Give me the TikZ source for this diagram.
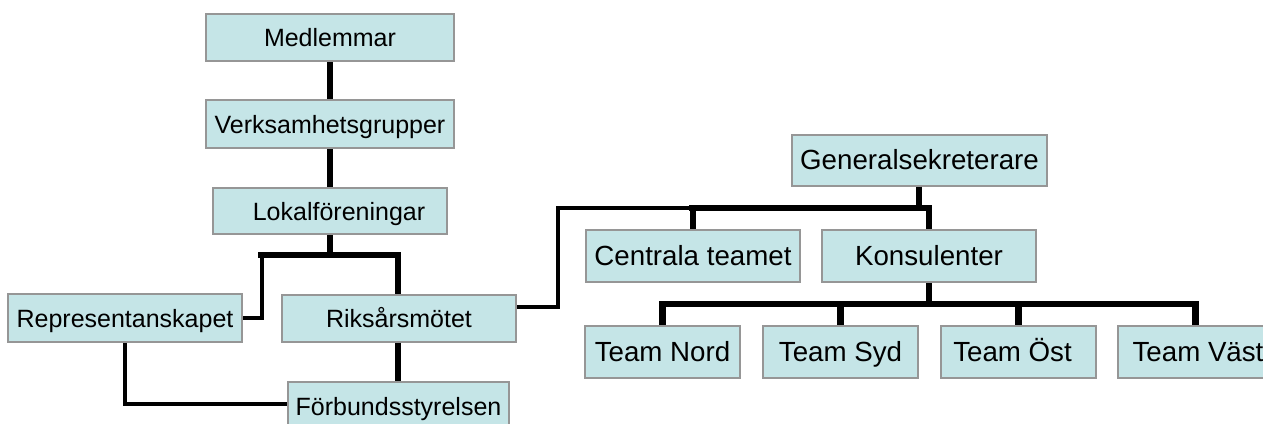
\documentclass[tikz,border=0pt]{standalone}
\usepackage{fontspec}
\setmainfont{Liberation Sans}
\definecolor{boxfill}{RGB}{197,229,231}
\definecolor{boxline}{RGB}{150,150,150}
\tikzset{
  orgbox/.style={draw=boxline, line width=2pt, fill=boxfill, inner sep=0pt,
    font=\fontsize{25}{30}\selectfont, text=black, anchor=center,
    text height=18pt, text depth=0pt},
  bigtext/.style={font=\fontsize{27.7}{32}\selectfont, text height=19.9pt},
  thickline/.style={line width=6.5pt, draw=black},
  thinline/.style={line width=3.5pt, draw=black},
}
\begin{document}
\begin{tikzpicture}[x=1pt,y=-1pt]
\useasboundingbox (0,0) rectangle (1263,423);
\clip (0,0) rectangle (1263,423);
\fill[white] (0,0) rectangle (1263,423);

% left part
\node[orgbox, minimum width=248pt, minimum height=47pt] (med) at (330,37.5) {Medlemmar};
\node[orgbox, minimum width=248pt, minimum height=48pt] (ver) at (330,124) {Verksamhetsgrupper};
\node[orgbox, minimum width=234pt, minimum height=46pt] (lok) at (330,211) {\hspace*{18pt}Lokalföreningar};
\node[orgbox, minimum width=234pt, minimum height=48pt] (rep) at (125,318) {Representanskapet};
\node[orgbox, minimum width=234pt, minimum height=47pt] (rik) at (399,318) {Riksårsmötet};
\node[orgbox, minimum width=221pt, minimum height=48pt] (frb) at (398.5,406) {Förbundsstyrelsen};

% right part
\node[orgbox, bigtext, minimum width=255pt, minimum height=51pt] (gen) at (919.5,160) {Generalsekreterare};
\node[orgbox, bigtext, minimum width=214pt, minimum height=52pt] (cen) at (693,256) {Centrala teamet};
\node[orgbox, bigtext, minimum width=214pt, minimum height=52pt] (kon) at (929,256) {Konsulenter};
\node[orgbox, bigtext, minimum width=155pt, minimum height=52pt] (nord) at (662.5,352) {Team Nord};
\node[orgbox, bigtext, minimum width=155pt, minimum height=52pt] (syd) at (840.5,352) {Team Syd};
\node[orgbox, bigtext, minimum width=155pt, minimum height=52pt] (ost) at (1018.5,352) {Team Öst\hspace*{12pt}};
\node[orgbox, bigtext, minimum width=155pt, minimum height=52pt] (vast) at (1195.5,352) {\hspace*{5pt}Team Väst};

% coordinates
\coordinate (lokbus) at (330,255);
\coordinate (lbl) at (258,255);
\coordinate (lbr) at (398,255);
\coordinate (repup) at (262,255);
\coordinate (repcorner) at (262,318);
\coordinate (repdown) at (125,404);
\coordinate (rikout) at (558,307);
\coordinate (rikup) at (558,208);
\coordinate (genbus) at (919,208);
\coordinate (gbl) at (689,208);
\coordinate (gbr) at (929,208);
\coordinate (gbe) at (932,208);
\coordinate (konbus) at (929,304);
\coordinate (tbl) at (659,304);
\coordinate (tbr) at (1199,304);

% thick connectors
\draw[thickline] (med.south) -- (ver.north);
\draw[thickline] (ver.south) -- (lok.north);
\draw[thickline] (lok.south) -- (lokbus);
\draw[thickline] (lbl) -- (lbr) -- (rik.north -| lbr);
\draw[thickline] (rik.south -| lbr) -- (frb.north -| lbr);

% thin connectors
\draw[thinline] (repup) -- (repcorner) -- (rep.east);
\draw[thinline] (rep.south) -- (repdown) -- (frb.west |- repdown);
\draw[thinline] ([yshift=11pt]rik.east) -- (rikout) -- (rikup) -- (gbl);

% right thick connectors
\draw[thickline] (gen.south -| genbus) -- (genbus);
\draw[thickline] (gbl) -- (gbe);
\draw[thickline] (gbl -| cen.north) -- (cen.north);
\draw[thickline] (gbr) -- (kon.north);
\draw[thickline] (kon.south) -- (konbus);
\draw[thickline] (tbl) -- (tbr);
\draw[thickline] (tbl -| nord.north) -- (nord.north);
\draw[thickline] (tbl -| syd.north) -- (syd.north);
\draw[thickline] (tbl -| ost.north) -- (ost.north);
\draw[thickline] (tbl -| vast.north) -- (vast.north);
\end{tikzpicture}
\end{document}
